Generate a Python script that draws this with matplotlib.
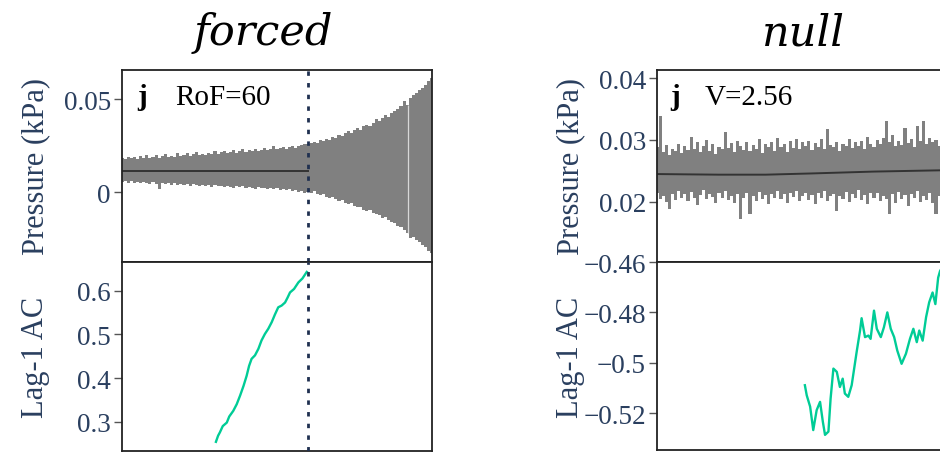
import matplotlib
matplotlib.use("Agg")
import matplotlib.pyplot as plt
import numpy as np

# ---------------- data ----------------
titles = ["forced", "null"]
panel_letter = "j"
forced_label = "RoF=60"
null_label = "V=2.56"

# time axis (arbitrary units, 0..100 across the panel)
t = list(range(101))

forced_upper = [
    0.0185, 0.0178, 0.0190, 0.0182, 0.0186, 0.0176, 0.0192, 0.0184, 0.0198, 0.0181,
    0.0187, 0.0200, 0.0185, 0.0193, 0.0205, 0.0188, 0.0196, 0.0190, 0.0208, 0.0192,
    0.0199, 0.0210, 0.0194, 0.0202, 0.0215, 0.0198, 0.0206, 0.0201, 0.0212, 0.0203,
    0.0218, 0.0207, 0.0213, 0.0222, 0.0209, 0.0216, 0.0226, 0.0212, 0.0220, 0.0230,
    0.0216, 0.0224, 0.0219, 0.0233, 0.0221, 0.0228, 0.0238, 0.0225, 0.0232, 0.0247,
    0.0230, 0.0236, 0.0244, 0.0233, 0.0240, 0.0249, 0.0238, 0.0245, 0.0252, 0.0256,
    0.0260, 0.0265, 0.0270, 0.0266, 0.0278, 0.0274, 0.0285, 0.0281, 0.0294, 0.0290,
    0.0305, 0.0300, 0.0318, 0.0326, 0.0320, 0.0335, 0.0342, 0.0336, 0.0355, 0.0362,
    0.0356, 0.0372, 0.0390, 0.0382, 0.0400, 0.0412, 0.0405, 0.0425, 0.0438, 0.0446,
    0.0462, 0.0490, 0.0470, 0.0505, 0.0520, 0.0532, 0.0548, 0.0560, 0.0578, 0.0595,
    0.0615,
]
forced_lower = [
    0.0055, 0.0060, 0.0050, 0.0058, 0.0048, 0.0056, 0.0046, 0.0054, 0.0049, 0.0044,
    0.0052, 0.0045, 0.0016, 0.0050, 0.0042, 0.0048, 0.0040, 0.0047, 0.0038, 0.0045,
    0.0036, 0.0043, 0.0034, 0.0041, 0.0037, 0.0030, 0.0040, 0.0033, 0.0038, 0.0028,
    0.0036, 0.0030, 0.0034, 0.0026, 0.0033, 0.0029, 0.0022, 0.0031, 0.0025, 0.0030,
    0.0021, 0.0028, 0.0023, 0.0017, 0.0026, 0.0020, 0.0024, 0.0014, 0.0022, 0.0016,
    0.0020, 0.0012, 0.0018, 0.0009, 0.0015, 0.0006, 0.0011, 0.0002, 0.0007, -0.0004,
    0.0000, -0.0006, 0.0004, -0.0010, -0.0016, -0.0012, -0.0024, -0.0030, -0.0026, -0.0040,
    -0.0048, -0.0044, -0.0058, -0.0064, -0.0060, -0.0076, -0.0082, -0.0078, -0.0094, -0.0100,
    -0.0096, -0.0112, -0.0120, -0.0126, -0.0138, -0.0134, -0.0150, -0.0162, -0.0168, -0.0180,
    -0.0190, -0.0202, -0.0218, -0.0245, -0.0240, -0.0258, -0.0270, -0.0282, -0.0298, -0.0316,
    -0.0330,
]
forced_gap_t = 92.2
forced_gap_idx = 92
forced_mean_t = [0, 60]
forced_mean = [0.0115, 0.0115]
transition_t = 60

forced_ac_t = [30.3, 31.0, 31.6, 32.5, 33.8, 34.6, 35.9, 37.0, 38.1, 39.2, 40.2, 41.0,
               41.8, 42.9, 44.0, 45.0, 46.1, 47.2, 48.3, 49.3, 50.4, 51.5, 52.6, 53.4,
               54.2, 55.5, 56.9, 58.2, 59.6]
forced_ac = [0.254, 0.268, 0.276, 0.290, 0.298, 0.312, 0.325, 0.340, 0.360, 0.382,
             0.405, 0.428, 0.444, 0.452, 0.467, 0.486, 0.501, 0.513, 0.528, 0.545,
             0.562, 0.566, 0.573, 0.584, 0.596, 0.604, 0.619, 0.628, 0.643]

null_upper = [
    0.0288, 0.0339, 0.0280, 0.0292, 0.0276, 0.0286, 0.0282, 0.0294, 0.0279, 0.0290,
    0.0284, 0.0305, 0.0286, 0.0296, 0.0280, 0.0291, 0.0300, 0.0283, 0.0293, 0.0278,
    0.0289, 0.0285, 0.0313, 0.0287, 0.0295, 0.0281, 0.0298, 0.0290, 0.0284, 0.0297,
    0.0282, 0.0292, 0.0286, 0.0301, 0.0279, 0.0294, 0.0288, 0.0296, 0.0283, 0.0304,
    0.0289, 0.0293, 0.0281, 0.0298, 0.0287, 0.0302, 0.0285, 0.0296, 0.0290, 0.0299,
    0.0284, 0.0295, 0.0289, 0.0301, 0.0286, 0.0317, 0.0292, 0.0288, 0.0297, 0.0283,
    0.0294, 0.0290, 0.0302, 0.0287, 0.0296, 0.0291, 0.0299, 0.0285, 0.0305, 0.0293,
    0.0288, 0.0300, 0.0294, 0.0303, 0.0331, 0.0296, 0.0308, 0.0290, 0.0299, 0.0292,
    0.0319, 0.0295, 0.0301, 0.0289, 0.0323, 0.0298, 0.0331, 0.0293, 0.0304, 0.0296,
    0.0300, 0.0291, 0.0298, 0.0294, 0.0302, 0.0290, 0.0297, 0.0293, 0.0301, 0.0295,
    0.0299,
]
null_lower = [
    0.0215, 0.0205, 0.0210, 0.0200, 0.0188, 0.0212, 0.0203, 0.0218, 0.0207, 0.0213,
    0.0201, 0.0216, 0.0206, 0.0195, 0.0211, 0.0219, 0.0204, 0.0213, 0.0208, 0.0199,
    0.0214, 0.0206, 0.0217, 0.0203, 0.0210, 0.0198, 0.0212, 0.0172, 0.0207, 0.0215,
    0.0180, 0.0209, 0.0202, 0.0216, 0.0205, 0.0211, 0.0197, 0.0213, 0.0206, 0.0218,
    0.0204, 0.0212, 0.0199, 0.0214, 0.0208, 0.0217, 0.0201, 0.0210, 0.0215, 0.0203,
    0.0211, 0.0196, 0.0214, 0.0207, 0.0218, 0.0202, 0.0209, 0.0213, 0.0185, 0.0210,
    0.0204, 0.0216, 0.0200, 0.0212, 0.0207, 0.0219, 0.0203, 0.0211, 0.0197, 0.0214,
    0.0206, 0.0215, 0.0201, 0.0210, 0.0205, 0.0180, 0.0212, 0.0199, 0.0216, 0.0204,
    0.0211, 0.0194, 0.0213, 0.0206, 0.0217, 0.0200, 0.0209, 0.0203, 0.0214, 0.0198,
    0.0181, 0.0210, 0.0205, 0.0213, 0.0201, 0.0208, 0.0196, 0.0212, 0.0204, 0.0209,
    0.0202,
]
null_mean_t = [0, 20, 35, 50, 70, 91, 100]
null_mean = [0.0245, 0.0244, 0.0244, 0.0246, 0.0249, 0.0251, 0.0252]

null_ac_t = [47.7, 48.3, 49.4, 50.4, 51.5, 52.6, 53.5, 54.2, 55.3, 56.0, 56.9, 58.0,
             59.0, 59.9, 60.6, 61.7, 62.8, 64.4, 65.5, 66.0, 67.1, 68.2, 68.9, 70.0,
             70.9, 72.2, 73.2, 74.3, 75.4, 76.5, 77.5, 78.9, 80.3, 81.6, 82.7, 83.8,
             84.6, 85.7, 86.8, 87.8, 88.9, 89.8, 90.7, 91.3, 92.5]
null_ac = [-0.5089, -0.5129, -0.5174, -0.5267, -0.5188, -0.5155, -0.5234, -0.5286,
           -0.5273, -0.5142, -0.5023, -0.5036, -0.5096, -0.5063, -0.5122, -0.5135,
           -0.5089, -0.4957, -0.4872, -0.4823, -0.4898, -0.4892, -0.4905, -0.4793,
           -0.4865, -0.4898, -0.4859, -0.4800, -0.4865, -0.4898, -0.4951, -0.5004,
           -0.4964, -0.4905, -0.4865, -0.4918, -0.4872, -0.4912, -0.4819, -0.4760,
           -0.4721, -0.4767, -0.4662, -0.4636, -0.4610]

forced_p_ticks = [0, 0.05]
forced_p_ticklabels = ["0", "0.05"]
forced_ac_ticks = [0.3, 0.4, 0.5, 0.6]
forced_ac_ticklabels = ["0.3", "0.4", "0.5", "0.6"]
null_p_ticks = [0.02, 0.03, 0.04]
null_p_ticklabels = ["0.02", "0.03", "0.04"]
null_ac_ticks = [-0.52, -0.50, -0.48, -0.46]
null_ac_ticklabels = ["\u22120.52", "\u22120.5", "\u22120.48", "\u22120.46"]

# ---------------- style ----------------
W, H = 940, 456
SERIF = ["Liberation Serif", "DejaVu Serif"]
LABEL_C = "#2a3f5f"
GRAY = "#808080"
GREEN = "#00cc96"
FRAME = "#222222"

fig = plt.figure(figsize=(W / 100, H / 100), dpi=100)


def px_rect(x0, y0, x1, y1):
    return [x0 / W, 1 - y1 / H, (x1 - x0) / W, (y1 - y0) / H]


def style_axes(ax, ticks, ticklabels, ylim, ylabel):
    ax.set_xlim(0, 100)
    ax.set_ylim(*ylim)
    ax.set_xticks([])
    ax.set_yticks(ticks)
    ax.set_yticklabels(ticklabels, fontfamily=SERIF, fontsize=19.5, color=LABEL_C)
    ax.tick_params(axis="y", direction="out", length=6, width=1.0, color="#555555", pad=2)
    for s in ax.spines.values():
        s.set_color(FRAME)
        s.set_linewidth(1.3)
    ax.set_ylabel(ylabel, fontfamily=SERIF, fontsize=22, color=LABEL_C)
    ax.yaxis.set_label_coords(-0.232, 0.5)


# left panel (forced)
axL1 = fig.add_axes(px_rect(122, 71, 432, 263))
axL2 = fig.add_axes(px_rect(122, 263, 432, 452))
# right panel (null)
axR1 = fig.add_axes(px_rect(657, 71, 967, 263))
axR2 = fig.add_axes(px_rect(657, 263, 967, 451))

# forced pressure
axL1.fill_between(t, forced_lower, forced_upper, step="mid", color=GRAY, lw=0, zorder=1)
axL1.vlines(forced_gap_t, forced_lower[forced_gap_idx], forced_upper[forced_gap_idx],
            color="#d8d8d8", lw=0.9, zorder=1.5)
axL1.plot(forced_mean_t, forced_mean, color="#333333", lw=1.4, zorder=2)
style_axes(axL1, forced_p_ticks, forced_p_ticklabels, (-0.0376, 0.0656), "Pressure (kPa)")

# forced AC
axL2.plot(forced_ac_t, forced_ac, color=GREEN, lw=1.7, zorder=2)
style_axes(axL2, forced_ac_ticks, forced_ac_ticklabels, (0.233, 0.6657), "Lag-1 AC")

for ax in (axL1, axL2):
    ax.axvline(transition_t, color="#1f3050", lw=2.0, dashes=(1.6, 2.6), zorder=3)

# null pressure
axR1.fill_between(t, null_lower, null_upper, step="mid", color=GRAY, lw=0, zorder=1)
axR1.plot(null_mean_t, null_mean, color="#333333", lw=1.4, zorder=2)
style_axes(axR1, null_p_ticks, null_p_ticklabels, (0.0103, 0.0413), "Pressure (kPa)")

# null AC
axR2.plot(null_ac_t, null_ac, color=GREEN, lw=1.7, zorder=2)
style_axes(axR2, null_ac_ticks, null_ac_ticklabels, (-0.5346, -0.46), "Lag-1 AC")

# annotations
axL1.text(0.048, 0.823, panel_letter, transform=axL1.transAxes, fontfamily=SERIF,
          fontweight="bold", fontsize=21, va="baseline", ha="left")
axL1.text(0.171, 0.823, forced_label, transform=axL1.transAxes, fontfamily=SERIF,
          fontsize=21, va="baseline", ha="left")
axR1.text(0.042, 0.823, panel_letter, transform=axR1.transAxes, fontfamily=SERIF,
          fontweight="bold", fontsize=21, va="baseline", ha="left")
axR1.text(0.155, 0.823, null_label, transform=axR1.transAxes, fontfamily=SERIF,
          fontsize=21, va="baseline", ha="left")

# titles
fig.text(263 / W, 1 - 45 / H, titles[0], fontfamily="DejaVu Serif", style="italic",
         fontsize=31, ha="center", va="baseline")
fig.text(803 / W, 1 - 45 / H, titles[1], fontfamily="DejaVu Serif", style="italic",
         fontsize=31, ha="center", va="baseline")

fig.savefig("out.png", dpi=100)
